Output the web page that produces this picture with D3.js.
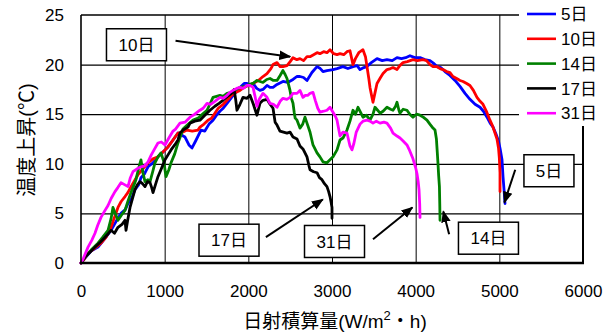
<!DOCTYPE html>
<html>
<head>
<meta charset="utf-8">
<script src="https://cdn.jsdelivr.net/npm/d3@7"></script>
<style>
  html, body { margin: 0; padding: 0; background: #fff; }
  svg { display: block; font-family: "Liberation Sans", "Noto Sans CJK JP", sans-serif; }
</style>
</head>
<body>
<svg id="chart" width="615" height="336"></svg>
<script>
// Temperature rise versus cumulative solar irradiation, one curve per day
const xTicks = [0, 1000, 2000, 3000, 4000, 5000, 6000];
const yTicks = [0, 5, 10, 15, 20, 25];
const seriesNames = ["5日", "10日", "14日", "17日", "31日"];
const seriesColors = ["#0000ff", "#ff0000", "#008000", "#000000", "#ff00ff"];

const day5 = [[0,0],[48,0.5],[120,1.2],[203,1.6],[280,2.4],[359,3.3],[420,4.2],[478,5.0],[530,5.4],[562,6.0],[610,6.6],[645,7.4],[690,7.9],[717,8.6],[760,9.0],[801,9.7],[860,10.1],[920,10.7],[980,11.2],[1040,11.7],[1100,12.4],[1159,13.1],[1200,12.9],[1243,12.7],[1290,11.9],[1327,11.6],[1370,12.3],[1434,13.4],[1480,13.3],[1530,14.0],[1578,14.4],[1620,14.9],[1660,15.3],[1700,15.6],[1745,16.1],[1800,16.7],[1860,17.3],[1900,17.7],[1950,18.1],[1984,18.1],[2020,17.9],[2056,18.1],[2100,17.6],[2139,17.4],[2175,17.5],[2223,17.9],[2259,17.7],[2295,17.7],[2343,18.0],[2414,18.3],[2470,18.2],[2534,18.5],[2580,18.8],[2617,18.8],[2660,18.7],[2701,18.4],[2760,19.2],[2821,19.8],[2860,19.6],[2892,19.3],[2940,19.4],[3012,19.5],[3060,19.6],[3131,19.8],[3190,19.6],[3251,19.8],[3300,19.9],[3335,19.5],[3380,19.7],[3418,19.8],[3470,20.2],[3538,20.6],[3600,20.4],[3657,20.5],[3720,20.4],[3777,20.7],[3830,20.6],[3880,20.7],[3932,20.9],[3990,20.7],[4052,20.7],[4110,20.5],[4171,20.4],[4220,20.1],[4255,19.8],[4300,19.7],[4350,19.3],[4410,18.9],[4470,18.4],[4530,17.8],[4590,17.1],[4649,16.5],[4710,16.0],[4769,15.7],[4810,15.3],[4853,14.7],[4890,14.1],[4925,13.7],[4960,13.0],[4990,12.3],[5010,11.5],[5032,10.4],[5044,8.7],[5058,7.2],[5068,6.0]];

const day10 = [[0,0],[40,0.4],[84,1.0],[150,1.4],[239,2.0],[300,2.6],[359,3.6],[400,4.6],[442,5.6],[480,6.2],[526,6.7],[560,7.1],[598,7.7],[640,8.3],[681,8.9],[740,9.5],[801,10.1],[860,10.5],[920,10.7],[980,11.2],[1040,11.7],[1100,12.4],[1159,13.1],[1219,13.2],[1267,13.4],[1330,13.3],[1398,13.4],[1422,13.7],[1470,14.0],[1518,14.4],[1560,14.6],[1600,15.1],[1640,15.6],[1700,16.0],[1745,16.4],[1800,16.9],[1850,17.2],[1900,17.4],[1950,17.7],[2000,17.9],[2056,18.1],[2120,18.4],[2175,18.8],[2223,19.1],[2270,19.6],[2295,20.0],[2343,20.2],[2380,19.8],[2414,19.8],[2462,19.9],[2500,20.3],[2534,20.7],[2580,20.5],[2617,20.6],[2660,20.4],[2701,20.8],[2737,20.8],[2780,21.0],[2821,21.2],[2856,21.1],[2900,21.3],[2940,21.2],[2976,21.5],[3020,21.1],[3060,21.0],[3096,21.1],[3140,21.0],[3179,21.3],[3215,21.4],[3251,20.0],[3280,20.6],[3320,21.2],[3370,21.5],[3400,20.8],[3418,19.8],[3440,18.6],[3454,17.7],[3475,16.8],[3490,16.2],[3515,17.2],[3538,18.1],[3580,18.7],[3610,19.1],[3657,19.5],[3700,19.6],[3729,19.7],[3777,19.5],[3810,19.9],[3849,20.2],[3900,20.3],[3968,20.5],[4020,20.4],[4088,20.5],[4130,20.4],[4171,20.0],[4207,19.8],[4250,19.8],[4291,19.6],[4327,19.5],[4370,19.3],[4410,19.2],[4446,18.8],[4490,18.6],[4530,18.4],[4566,18.3],[4610,18.1],[4649,17.9],[4690,17.4],[4733,16.7],[4770,16.3],[4805,16.0],[4850,15.2],[4888,14.4],[4920,13.8],[4948,13.1],[4972,12.5],[4990,11.6],[5000,10.6],[5008,9.1],[5008,8.0],[5008,7.2]];

const day14 = [[0,0],[48,0.6],[120,1.3],[203,2.0],[260,2.6],[323,3.3],[360,4.5],[382,5.6],[410,5.0],[442,4.3],[480,4.8],[526,5.3],[560,6.2],[598,7.1],[630,7.8],[657,8.4],[690,9.6],[717,10.4],[740,9.1],[765,8.2],[800,8.4],[825,8.2],[860,9.3],[884,10.1],[920,10.7],[956,11.1],[990,10.2],[1016,8.7],[1050,9.4],[1076,10.1],[1120,11.0],[1159,12.1],[1190,12.8],[1219,13.5],[1270,13.9],[1339,14.4],[1400,14.6],[1450,15.0],[1506,15.4],[1540,16.0],[1578,16.7],[1620,16.8],[1661,16.9],[1700,16.8],[1745,17.1],[1800,17.2],[1850,17.5],[1900,17.7],[1960,17.8],[2010,18.0],[2056,18.1],[2103,18.4],[2140,18.3],[2175,18.2],[2220,18.5],[2259,18.6],[2300,18.4],[2343,18.4],[2380,18.9],[2414,19.4],[2440,19.0],[2462,18.6],[2480,18.0],[2498,17.4],[2515,16.6],[2534,16.1],[2548,15.2],[2560,14.6],[2582,14.4],[2617,13.6],[2650,14.0],[2677,14.7],[2701,14.1],[2737,13.2],[2773,11.9],[2821,11.1],[2856,10.7],[2892,10.2],[2940,10.1],[2976,10.4],[3012,10.7],[3060,11.4],[3096,12.4],[3131,12.6],[3179,13.4],[3215,14.3],[3251,15.4],[3280,15.0],[3311,15.7],[3340,15.2],[3370,14.7],[3410,14.9],[3454,14.4],[3490,15.0],[3514,15.7],[3545,15.4],[3574,15.1],[3610,15.3],[3657,15.7],[3700,15.5],[3729,15.4],[3760,15.8],[3777,16.2],[3800,15.4],[3813,15.1],[3850,15.5],[3896,15.4],[3930,15.0],[3968,14.7],[4010,15.0],[4052,14.9],[4090,14.7],[4135,14.4],[4170,14.0],[4207,13.6],[4231,13.4],[4248,12.5],[4258,11.2],[4267,10.0],[4275,8.8],[4284,7.7],[4288,6.0],[4291,4.3]];

const day17 = [[0,0],[48,0.6],[110,1.1],[167,1.6],[230,2.1],[287,2.6],[330,3.0],[359,3.3],[400,3.0],[442,3.6],[490,3.9],[526,4.3],[538,3.3],[560,4.4],[586,5.6],[615,6.5],[645,7.4],[675,7.9],[705,8.2],[735,8.0],[765,7.7],[795,8.2],[825,8.1],[845,7.6],[861,7.1],[890,7.9],[920,8.7],[960,9.5],[1004,10.4],[1040,10.9],[1076,11.4],[1120,11.9],[1159,12.4],[1183,13.1],[1220,13.4],[1279,13.7],[1303,14.1],[1360,14.3],[1422,14.4],[1480,14.9],[1542,15.4],[1600,15.8],[1650,16.1],[1697,16.4],[1750,16.8],[1800,17.1],[1830,17.5],[1850,16.4],[1864,15.4],[1900,16.0],[1936,16.7],[1984,16.6],[2020,16.9],[2060,16.0],[2103,14.9],[2139,16.1],[2175,16.4],[2223,16.5],[2260,16.0],[2295,15.6],[2320,14.2],[2343,13.9],[2378,13.3],[2420,13.2],[2462,13.1],[2498,13.2],[2534,12.7],[2582,12.5],[2617,11.8],[2653,11.5],[2701,10.7],[2725,9.8],[2737,9.4],[2780,9.2],[2821,9.1],[2850,8.6],[2880,8.4],[2910,8.0],[2940,7.7],[2960,7.2],[2976,6.7],[2990,6.1],[3000,5.6],[3000,4.5]];

const day31 = [[0,0],[30,0.5],[84,1.6],[130,2.3],[167,3.0],[200,3.8],[239,4.6],[280,5.2],[323,5.8],[360,6.5],[406,7.2],[440,7.6],[478,8.1],[520,7.9],[562,7.7],[590,8.6],[621,9.2],[670,9.5],[717,9.7],[760,9.8],[801,10.2],[840,10.9],[880,11.5],[920,12.1],[960,12.2],[1004,11.9],[1050,12.6],[1100,13.3],[1130,13.5],[1183,14.1],[1243,14.2],[1303,14.7],[1360,15.0],[1422,15.4],[1460,15.6],[1506,16.1],[1550,16.0],[1600,16.3],[1661,16.7],[1700,16.6],[1745,16.9],[1780,17.2],[1817,17.4],[1860,17.6],[1900,17.7],[1940,17.6],[1984,17.9],[2020,17.9],[2056,17.7],[2080,16.8],[2103,15.8],[2130,16.5],[2175,17.1],[2223,16.7],[2259,16.1],[2300,16.0],[2343,15.7],[2380,16.3],[2414,16.6],[2460,16.5],[2498,16.7],[2534,17.1],[2582,17.1],[2617,17.4],[2653,16.7],[2680,16.9],[2713,16.9],[2737,17.1],[2773,17.2],[2800,16.4],[2830,15.6],[2856,15.2],[2900,15.3],[2940,15.4],[2976,15.7],[3012,15.2],[3040,14.8],[3060,14.4],[3096,12.8],[3131,13.2],[3179,13.1],[3215,11.8],[3239,11.4],[3260,12.0],[3290,13.2],[3335,14.0],[3370,14.3],[3418,14.4],[3454,14.3],[3490,14.1],[3530,14.3],[3574,14.1],[3620,14.2],[3657,14.1],[3700,13.6],[3729,13.1],[3777,12.8],[3813,12.6],[3850,12.3],[3896,11.9],[3930,11.3],[3968,10.5],[4000,9.6],[4016,9.0],[4030,8.2],[4040,7.4],[4048,6.0],[4052,4.6]];

const seriesData = [day5, day10, day14, day17, day31];

// Callout labels: text, box centre, arrow tail and head in data units
const callouts = [
  { label: "10日", box: [663, 22.0],  from: [1130, 22.4], to: [2500, 20.8] },
  { label: "17日", box: [1769, 2.3],  from: [2210, 2.6],  to: [2890, 6.4] },
  { label: "31日", box: [3030, 2.17], from: [3490, 2.4],  to: [3960, 5.6] },
  { label: "14日", box: [4870, 2.5],  from: [4400, 2.9],  to: [4330, 5.2] },
  { label: "5日",  box: [5593, 9.3],  from: [5190, 9.4],  to: [5060, 6.1] }
];

const svg = d3.select("#chart");
const margin = { left: 81, right: 32, top: 15, bottom: 73 };
const W = 615, H = 336;
const x = d3.scaleLinear().domain([0, 6000]).range([margin.left, W - margin.right]);
const y = d3.scaleLinear().domain([0, 25]).range([H - margin.bottom, margin.top]);

svg.append("defs").append("marker")
  .attr("id", "head")
  .attr("viewBox", "0 0 10 10")
  .attr("refX", 9).attr("refY", 5)
  .attr("markerWidth", 6).attr("markerHeight", 6)
  .attr("markerUnits", "strokeWidth")
  .attr("orient", "auto")
  .append("path").attr("d", "M0,1 L10,5 L0,9 Z").attr("fill", "#000");

// Grid
const grid = svg.append("g");
grid.append("g")
  .attr("transform", `translate(0,${y(0)})`)
  .call(d3.axisBottom(x).tickValues(xTicks.slice(1, -1)).tickSize(-(y(0) - y(25))).tickFormat(""))
  .call(g => g.select(".domain").remove())
  .call(g => g.selectAll("line").attr("stroke", "#000").attr("stroke-width", 1));
grid.append("g")
  .attr("transform", `translate(${x(0)},0)`)
  .call(d3.axisLeft(y).tickValues(yTicks.slice(1, -1)).tickSize(-(x(6000) - x(0))).tickFormat(""))
  .call(g => g.select(".domain").remove())
  .call(g => g.selectAll("line").attr("stroke", "#000").attr("stroke-width", 1.2));

// Series
const line = d3.line().x(d => x(d[0])).y(d => y(d[1]));
seriesData.forEach((data, i) => {
  svg.append("path")
    .datum(data)
    .attr("d", line)
    .attr("fill", "none")
    .attr("stroke", seriesColors[i])
    .attr("stroke-width", 2.8)
    .attr("stroke-linejoin", "round")
    .attr("stroke-linecap", "round");
});

// Frame
svg.append("line").attr("x1", x(0)).attr("x2", x(6000)).attr("y1", y(25)).attr("y2", y(25)).attr("stroke", "#000").attr("stroke-width", 1.6);
svg.append("line").attr("x1", x(6000)).attr("x2", x(6000)).attr("y1", y(25)).attr("y2", y(0)).attr("stroke", "#000").attr("stroke-width", 2);
svg.append("line").attr("x1", x(0)).attr("x2", x(0)).attr("y1", y(25)).attr("y2", y(0)).attr("stroke", "#000").attr("stroke-width", 1.6);
svg.append("line").attr("x1", x(0) - 1).attr("x2", x(6000) + 1).attr("y1", y(0)).attr("y2", y(0)).attr("stroke", "#000").attr("stroke-width", 2.6);

// Axis labels
const xAxis = svg.append("g")
  .attr("transform", `translate(0,${y(0)})`)
  .call(d3.axisBottom(x).tickValues(xTicks).tickSize(0).tickPadding(22).tickFormat(d3.format("d")));
xAxis.select(".domain").remove();
xAxis.selectAll("text").attr("font-size", 17).attr("fill", "#000").attr("font-family", null);

const yAxis = svg.append("g")
  .attr("transform", `translate(${x(0)},0)`)
  .call(d3.axisLeft(y).tickValues(yTicks).tickSize(0).tickPadding(17).tickFormat(d3.format("d")));
yAxis.select(".domain").remove();
yAxis.selectAll("text").attr("font-size", 17).attr("fill", "#000").attr("font-family", null);

// Axis titles
const xTitle = svg.append("text")
  .attr("x", 335).attr("y", 328)
  .attr("text-anchor", "middle")
  .attr("font-size", 19);
xTitle.append("tspan").text("日射積算量(W/m");
xTitle.append("tspan").attr("dy", -8).attr("font-size", 13).text("2");
xTitle.append("tspan").attr("dy", 8).text("・h)");

svg.append("text")
  .attr("transform", "translate(34,140) rotate(-90)")
  .attr("text-anchor", "middle")
  .attr("font-size", 20)
  .text("温度上昇(℃)");

// Legend
const legend = svg.append("g");
legend.append("rect").attr("x", 519).attr("y", 0).attr("width", 96).attr("height", 126).attr("fill", "#fff");
seriesNames.forEach((name, i) => {
  const ly = 14 + i * 24.8;
  legend.append("line").attr("x1", 527).attr("x2", 556).attr("y1", ly).attr("y2", ly)
    .attr("stroke", seriesColors[i]).attr("stroke-width", 2.6);
  legend.append("text").attr("x", 561).attr("y", ly).attr("dy", "0.36em")
    .attr("font-size", 17).text(name);
});

// Callouts
callouts.forEach(c => {
  svg.append("line")
    .attr("x1", x(c.from[0])).attr("y1", y(c.from[1]))
    .attr("x2", x(c.to[0])).attr("y2", y(c.to[1]))
    .attr("stroke", "#000").attr("stroke-width", 2)
    .attr("marker-end", "url(#head)");
  const bw = c.label.length > 2 ? 60 : 50, bh = 32;
  const cx = x(c.box[0]), cy = y(c.box[1]);
  svg.append("rect").attr("x", cx - bw / 2).attr("y", cy - bh / 2).attr("width", bw).attr("height", bh)
    .attr("fill", "#fff").attr("stroke", "#000").attr("stroke-width", 1.5);
  svg.append("text").attr("x", cx).attr("y", cy).attr("dy", "0.36em")
    .attr("text-anchor", "middle").attr("font-size", 17).text(c.label);
});
</script>
</body>
</html>
